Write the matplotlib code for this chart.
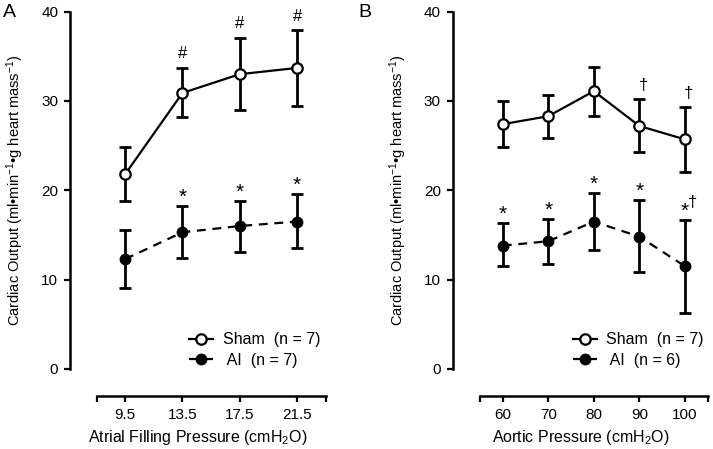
import numpy as np
import matplotlib
matplotlib.use("Agg")
import matplotlib.pyplot as plt
from matplotlib.lines import Line2D

plt.rcParams['font.family'] = ['Liberation Sans', 'DejaVu Sans']
plt.rcParams['mathtext.fontset'] = 'custom'
plt.rcParams['mathtext.rm'] = 'Liberation Sans'
plt.rcParams['mathtext.it'] = 'Liberation Sans'
plt.rcParams['mathtext.default'] = 'regular'

# Panel A: atrial filling pressure
atrial_p = [9.5, 13.5, 17.5, 21.5]
sham_a = [21.8, 30.9, 33.0, 33.7]
sham_a_lo = [18.8, 28.2, 29.0, 29.4]
sham_a_hi = [24.9, 33.7, 37.1, 37.9]
ai_a = [12.3, 15.3, 16.0, 16.5]
ai_a_lo = [9.1, 12.4, 13.1, 13.5]
ai_a_hi = [15.6, 18.2, 18.8, 19.6]
sham_a_marks = ['', '#', '#', '#']
ai_a_marks = ['', '*', '*', '*']

# Panel B: aortic pressure
aortic_p = [60, 70, 80, 90, 100]
sham_b = [27.4, 28.3, 31.1, 27.2, 25.7]
sham_b_lo = [24.9, 25.8, 28.3, 24.3, 22.1]
sham_b_hi = [30.0, 30.7, 33.8, 30.2, 29.3]
ai_b = [13.8, 14.3, 16.5, 14.8, 11.5]
ai_b_lo = [11.5, 11.8, 13.3, 10.8, 6.3]
ai_b_hi = [16.3, 16.8, 19.7, 18.9, 16.7]
sham_b_marks = ['', '', '', '\u2020', '\u2020']
ai_b_marks = ['*', '*', '*', '*', '*\u2020']

ylabel = 'Cardiac Output (ml\u2022min$^{-1}$\u2022g heart mass$^{-1}$)'

fig = plt.figure(figsize=(7.13, 4.49), dpi=100)
axA = fig.add_axes([0.0982, 0.1187, 0.4568 - 0.0982, 0.974 - 0.1187])
axB = fig.add_axes([0.635, 0.1187, 0.9944 - 0.635, 0.974 - 0.1187])


def draw_panel(ax, x, sham, s_lo, s_hi, ai, a_lo, a_hi, s_marks, a_marks,
               xlim, xb, xticks, xlabels, xlabel, n_ai):
    x = np.array(x, dtype=float)
    sham, s_lo, s_hi = map(np.array, (sham, s_lo, s_hi))
    ai, a_lo, a_hi = map(np.array, (ai, a_lo, a_hi))
    unit = (xlim[1] - xlim[0]) / 255.0  # roughly one pixel in x
    ekw = dict(ecolor='black', elinewidth=2, capsize=4, capthick=2, zorder=2)
    ax.errorbar(x, ai, yerr=[ai - a_lo, a_hi - ai], fmt='none', **ekw)
    ax.errorbar(x, sham, yerr=[sham - s_lo, s_hi - sham], fmt='none', **ekw)
    ax.plot(x, ai, ls=(0, (4, 3)), color='black', lw=1.6, marker='o', ms=7.5,
            mfc='black', mec='black', zorder=3)
    ax.plot(x, sham, ls='-', color='black', lw=1.6, marker='o', ms=7.5,
            mfc='white', mec='black', mew=1.6, zorder=3)

    for xi, top, m in zip(x, s_hi, s_marks):
        if m == '#':
            ax.text(xi, top + 1.6, m, ha='center', va='center', fontsize=12)
        elif m:
            ax.text(xi + 4 * unit, top + 1.5, m, ha='center', va='center', fontsize=12)
    for xi, top, m in zip(x, a_hi, a_marks):
        if m:
            ax.text(xi, top + 1.0, '*', ha='center', va='center', fontsize=15)
            if len(m) > 1:
                ax.text(xi + 8 * unit, top + 1.9, m[1:],
                        ha='center', va='center', fontsize=12)

    ax.set_xlim(*xlim)
    ax.set_ylim(-3, 40)
    for s in ['top', 'right']:
        ax.spines[s].set_visible(False)
    ax.spines['left'].set_bounds(0, 40)
    ax.spines['bottom'].set_bounds(*xb)
    ax.spines['left'].set_linewidth(1.8)
    ax.spines['bottom'].set_linewidth(1.8)
    ax.set_yticks([0, 10, 20, 30, 40])
    ax.set_xticks(xticks)
    ax.set_xticklabels(xlabels)
    ax.tick_params(direction='out', width=1.6, length=4.5, labelsize=11, pad=4)
    ax.set_xlabel(xlabel, fontsize=11.5, labelpad=5)
    ax.set_ylabel(ylabel, fontsize=10.5, labelpad=11)
    ax.yaxis.label.set_y(0.5 + 1.5 / 43)

    handles = [
        Line2D([], [], color='black', lw=1.6, marker='o', ms=7.5, mfc='white', mew=1.6),
        Line2D([], [], color='black', lw=1.6, ls=(0, (4, 3)), marker='o', ms=7.5, mfc='black'),
    ]
    ax.legend(handles, ['Sham  (n = 7)', ' AI  (n = %d)' % n_ai], loc='lower right',
              bbox_to_anchor=(1.035, 0.035), frameon=False, fontsize=11.5,
              handlelength=1.5, handletextpad=0.6, labelspacing=0.35)


draw_panel(axA, atrial_p, sham_a, sham_a_lo, sham_a_hi, ai_a, ai_a_lo, ai_a_hi,
           sham_a_marks, ai_a_marks, (5.65, 23.5), (7.5, 23.5),
           [7.5, 9.5, 13.5, 17.5, 21.5, 23.5], ['', '9.5', '13.5', '17.5', '21.5', ''],
           'Atrial Filling Pressure (cmH$_2$O)', 7)
draw_panel(axB, aortic_p, sham_b, sham_b_lo, sham_b_hi, ai_b, ai_b_lo, ai_b_hi,
           sham_b_marks, ai_b_marks, (49, 105.3), (55, 105),
           [55, 60, 70, 80, 90, 100, 105], ['', '60', '70', '80', '90', '100', ''],
           'Aortic Pressure (cmH$_2$O)', 6)

fig.text(0.004, 0.972, 'A', fontsize=14, va='center', ha='left')
fig.text(0.502, 0.972, 'B', fontsize=14, va='center', ha='left')

fig.savefig('out.png', dpi=100)
